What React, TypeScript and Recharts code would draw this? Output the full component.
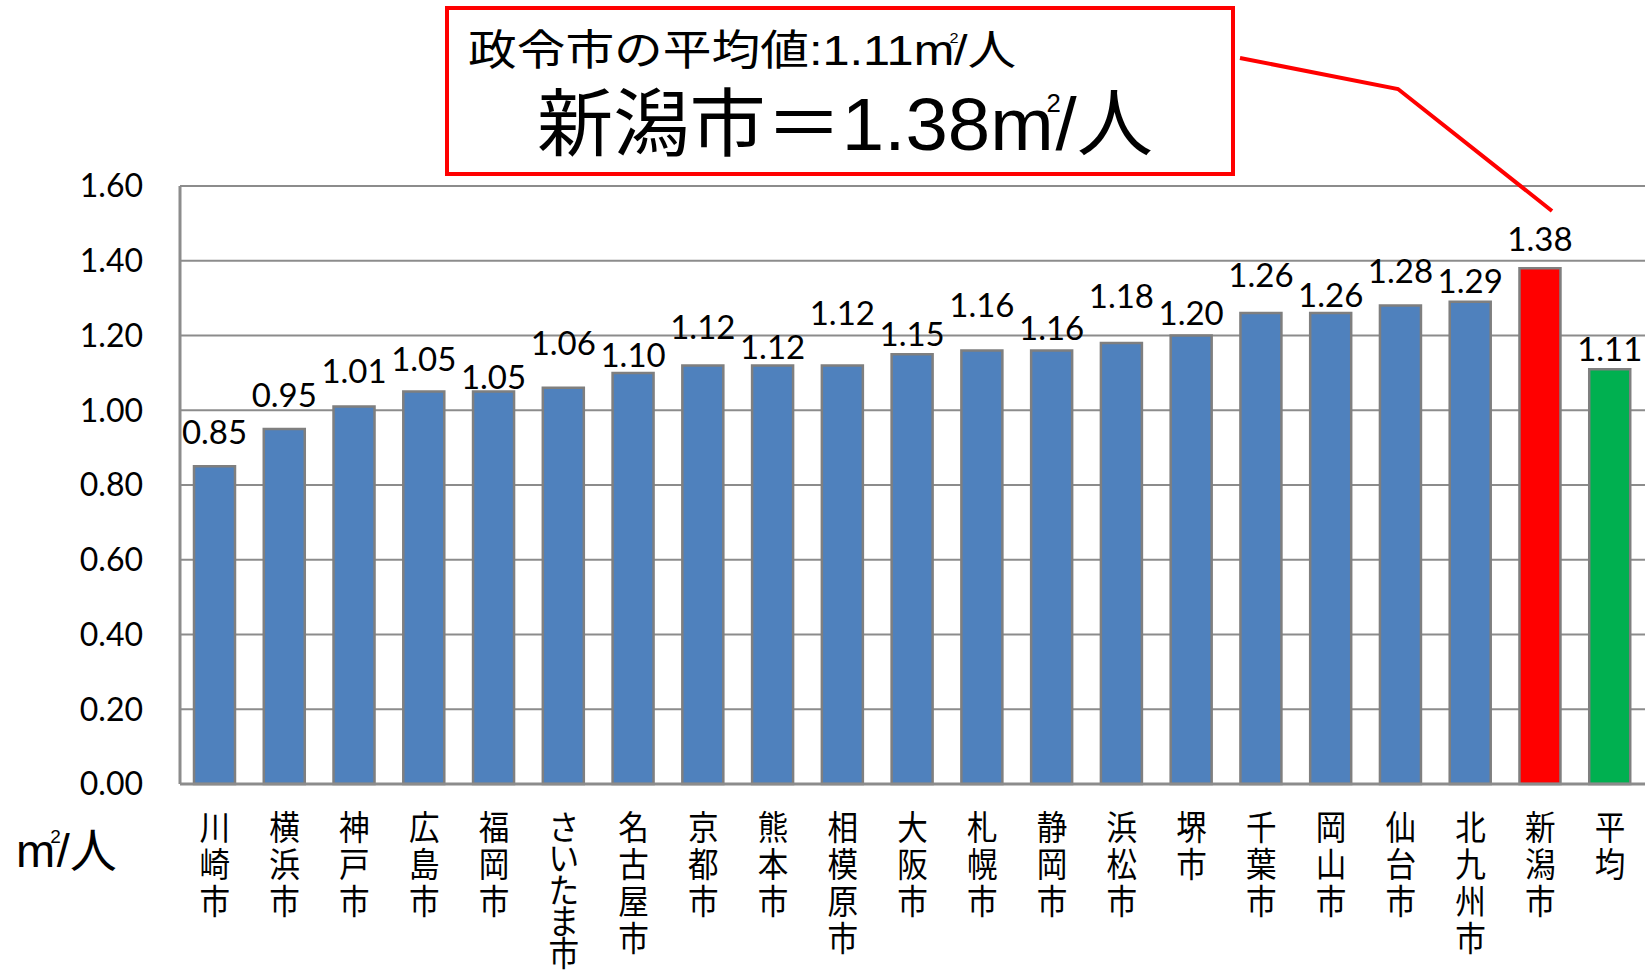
import React from "react";
import { BarChart, Bar, XAxis, YAxis, CartesianGrid, Cell, LabelList } from "recharts";

// ---- data ----
const cities = [
  "川崎市", "横浜市", "神戸市", "広島市", "福岡市", "さいたま市", "名古屋市", "京都市", "熊本市", "相模原市",
  "大阪市", "札幌市", "静岡市", "浜松市", "堺市", "千葉市", "岡山市", "仙台市", "北九州市", "新潟市", "平均",
];
const values = [
  0.85, 0.95, 1.01, 1.05, 1.05, 1.06, 1.1, 1.12, 1.12, 1.12,
  1.15, 1.16, 1.16, 1.18, 1.2, 1.26, 1.26, 1.28, 1.29, 1.38, 1.11,
];
const yTicks = [0, 0.2, 0.4, 0.6, 0.8, 1.0, 1.2, 1.4, 1.6];
const highlightCity = "新潟市";
const averageCity = "平均";
const calloutLine1 = "政令市の平均値:1.11";
const calloutLine2 = "新潟市＝1.38";
const unitMain = "m";
const unitSup = "2";
const unitTail = "/人";

// label lift above bar top (px), as placed in the original
const labelLift = [35, 35, 37, 34, 16, 46, 19, 39, 19, 53, 21, 46, 23, 48, 24, 39, 19, 36, 22, 30, 21];

const table = cities.map((name, i) => ({ name, value: values[i] }));

const BLUE = "#4f81bd";
const RED = "#ff0000";
const GREEN = "#00b050";
const BORDER = "#7f7f7f";
const GRID = "#8c8c8c";
const CJK = "'Noto Sans CJK JP', sans-serif";
const NUM = "Lato, 'Noto Sans', sans-serif";
const LAT_CJK = "'Liberation Sans', 'Noto Sans CJK JP', sans-serif";

const XTick = (props: any) => {
  const { x, y, payload } = props;
  const chars = Array.from(String(payload.value));
  const pitch = chars.length > 4 ? 31.5 : 37;
  return (
    <g transform={`translate(${x},${y})`}>
      <g transform="scale(0.9,1)">
        <text textAnchor="middle" fontFamily={CJK} fontSize={34} fill="#000">
          {chars.map((c, i) => (
            <tspan key={i} x={0} y={56 + i * pitch}>
              {c}
            </tspan>
          ))}
        </text>
      </g>
    </g>
  );
};

const renderLabel = (props: any) => {
  const { x, y, width, value, index } = props;
  const lift = labelLift[index] ?? 25;
  return (
    <text
      x={Number(x) + Number(width) / 2}
      y={Number(y) - lift}
      textAnchor="middle"
      dominantBaseline="central"
      fontFamily={NUM}
      fontSize={33}
      fill="#000"
    >
      {Number(value).toFixed(2)}
    </text>
  );
};

export default function App() {
  return (
    <div style={{ position: "fixed", left: 0, top: 0, width: 1648, height: 977, background: "#fff" }}>
      <BarChart
        width={1648}
        height={977}
        data={table}
        margin={{ top: 186, right: 3, bottom: 0, left: 0 }}
        barSize={41}
      >
        <CartesianGrid vertical={false} stroke={GRID} strokeWidth={2} />
        <XAxis
          dataKey="name"
          interval={0}
          tick={<XTick />}
          tickLine={false}
          tickSize={0}
          tickMargin={0}
          height={193}
          axisLine={{ stroke: GRID, strokeWidth: 3 }}
        />
        <YAxis
          domain={[0, 1.6]}
          ticks={yTicks}
          width={180}
          tickLine={false}
          tickSize={0}
          tickMargin={37}
          axisLine={{ stroke: GRID, strokeWidth: 3 }}
          tickFormatter={(v: number) => v.toFixed(2)}
          tick={{ fontFamily: NUM, fontSize: 32, fill: "#000" }}
        />
        <Bar dataKey="value" stroke={BORDER} strokeWidth={2.5} isAnimationActive={false}>
          {table.map((d, i) => (
            <Cell key={i} fill={d.name === highlightCity ? RED : d.name === averageCity ? GREEN : BLUE} />
          ))}
          <LabelList dataKey="value" content={renderLabel} />
        </Bar>
      </BarChart>
      <svg
        width={1648}
        height={977}
        style={{ position: "absolute", left: 0, top: 0, pointerEvents: "none" }}
      >
        <rect x={447} y={8} width={786} height={166} fill="#fff" stroke={RED} strokeWidth={4} />
        <polyline points="1240,58 1398,89 1552,211" fill="none" stroke={RED} strokeWidth={4} />
        <g transform="translate(468,65) scale(1.16,1)">
          <text x={0} y={0} fontFamily={LAT_CJK} fontSize={42} fill="#000">
            <tspan>{calloutLine1}</tspan>
            <tspan>{unitMain}</tspan>
            <tspan fontSize={14} dx={-4} dy={-22}>{unitSup}</tspan>
            <tspan dx={-4} dy={22}>{unitTail}</tspan>
          </text>
        </g>
        <g transform="translate(537,150) scale(1.03,1)">
          <text x={0} y={0} fontFamily={LAT_CJK} fontSize={74} fill="#000">
            <tspan>{calloutLine2}</tspan>
            <tspan>{unitMain}</tspan>
            <tspan fontSize={25} dx={-7} dy={-38}>{unitSup}</tspan>
            <tspan dx={-5} dy={38}>{unitTail}</tspan>
          </text>
        </g>
        <text x={16} y={867} fontFamily={LAT_CJK} fontSize={47} fill="#000">
          <tspan>{unitMain}</tspan>
          <tspan fontSize={19} dx={-5} dy={-24}>{unitSup}</tspan>
          <tspan dx={-4} dy={24}>{unitTail}</tspan>
        </text>
      </svg>
    </div>
  );
}
